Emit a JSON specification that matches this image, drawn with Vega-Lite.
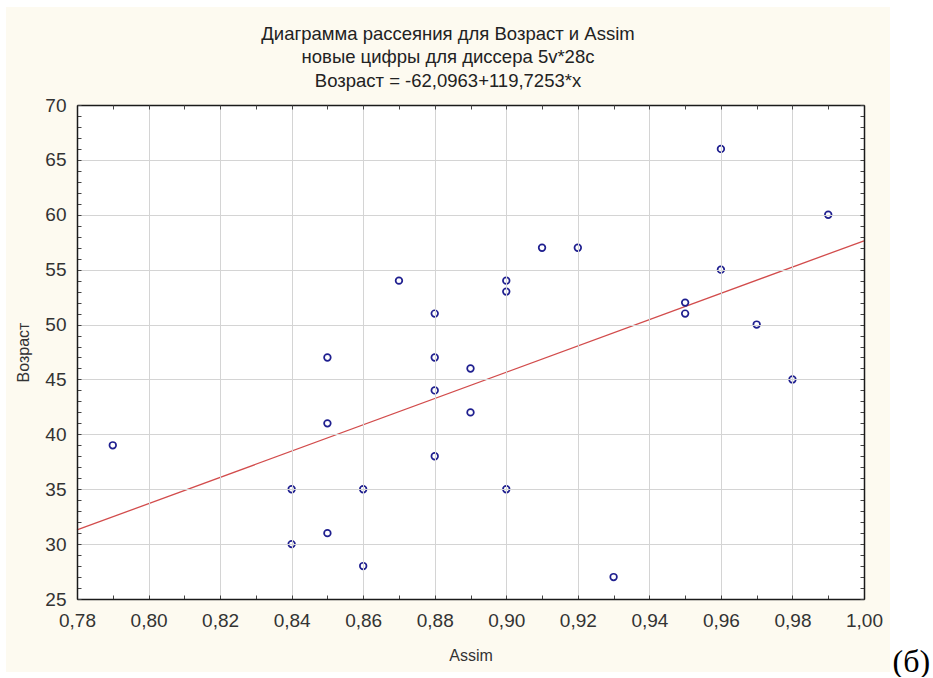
{
  "$schema": "https://vega.github.io/schema/vega-lite/v6.json",
  "width": 884,
  "height": 665,
  "padding": {"left": 6, "top": 7, "right": 0, "bottom": 0},
  "autosize": {"type": "pad"},
  "background": "white",
  "config": {
    "view": {"fill": "#fdfaf0", "stroke": null},
    "font": "Liberation Sans"
  },
  "title": {
    "text": ["Диаграмма рассеяния для Возраст и Assim", "новые цифры для диссера 5v*28c", "Возраст = -62,0963+119,7253*x"],
    "font": "Liberation Sans",
    "fontSize": 18.5,
    "fontWeight": "normal",
    "color": "#222222",
    "lineHeight": 23.5,
    "anchor": "middle",
    "frame": "group",
    "offset": -83
  },
  "datasets": {
    "frame": [{"x0": 0.78, "x1": 1.0, "y0": 25, "y1": 70}],
    "fit": [
      {"assim": 0.78, "age": 31.29},
      {"assim": 1.0, "age": 57.63}
    ],
    "obs": [
      {"assim": 0.79, "age": 39},
      {"assim": 0.84, "age": 35},
      {"assim": 0.84, "age": 30},
      {"assim": 0.85, "age": 47},
      {"assim": 0.85, "age": 41},
      {"assim": 0.85, "age": 31},
      {"assim": 0.86, "age": 35},
      {"assim": 0.86, "age": 28},
      {"assim": 0.87, "age": 54},
      {"assim": 0.88, "age": 51},
      {"assim": 0.88, "age": 47},
      {"assim": 0.88, "age": 44},
      {"assim": 0.88, "age": 38},
      {"assim": 0.89, "age": 46},
      {"assim": 0.89, "age": 42},
      {"assim": 0.90, "age": 54},
      {"assim": 0.90, "age": 53},
      {"assim": 0.90, "age": 35},
      {"assim": 0.91, "age": 57},
      {"assim": 0.92, "age": 57},
      {"assim": 0.93, "age": 27},
      {"assim": 0.95, "age": 52},
      {"assim": 0.95, "age": 51},
      {"assim": 0.96, "age": 66},
      {"assim": 0.96, "age": 55},
      {"assim": 0.97, "age": 50},
      {"assim": 0.98, "age": 45},
      {"assim": 0.99, "age": 60}
    ]
  },
  "layer": [
    {
      "data": {"name": "frame"},
      "mark": {"type": "rect", "fill": "white", "stroke": null},
      "encoding": {
        "x": {
          "field": "x0", "type": "quantitative",
          "scale": {"domain": [0.78, 1.0], "range": [71, 858], "nice": false, "zero": false},
          "axis": {
            "orient": "bottom", "offset": -73,
            "values": [0.78, 0.79, 0.8, 0.81, 0.82, 0.83, 0.84, 0.85, 0.86, 0.87, 0.88, 0.89, 0.9, 0.91, 0.92, 0.93, 0.94, 0.95, 0.96, 0.97, 0.98, 0.99, 1.0],
            "labelExpr": "round(datum.value*100) % 2 == 0 ? replace(format(datum.value, '.2f'), '.', ',') : ''",
            "labelOverlap": false, "labelFlush": false,
            "labelFontSize": 19, "labelColor": "#333333", "labelPadding": 16,
            "grid": false,
            "domain": true, "domainColor": "#1a1a1a", "domainWidth": 1.5,
            "ticks": true, "tickSize": -4, "tickColor": "#444444", "tickWidth": 1,
            "title": "Assim", "titleFontSize": 16, "titleFontWeight": "normal", "titleColor": "#333333", "titlePadding": 17,
            "zindex": 3
          }
        },
        "x2": {"field": "x1"},
        "y": {
          "field": "y0", "type": "quantitative",
          "scale": {"domain": [25, 70], "range": [592, 98], "nice": false, "zero": false},
          "axis": {
            "orient": "left", "offset": -71,
            "values": [25, 26, 27, 28, 29, 30, 31, 32, 33, 34, 35, 36, 37, 38, 39, 40, 41, 42, 43, 44, 45, 46, 47, 48, 49, 50, 51, 52, 53, 54, 55, 56, 57, 58, 59, 60, 61, 62, 63, 64, 65, 66, 67, 68, 69, 70],
            "labelExpr": "round(datum.value) % 5 == 0 ? format(datum.value, 'd') : ''",
            "labelOverlap": false, "labelFlush": false,
            "labelFontSize": 19, "labelColor": "#333333", "labelPadding": 15,
            "grid": false,
            "domain": true, "domainColor": "#1a1a1a", "domainWidth": 1.5,
            "ticks": true, "tickSize": -4, "tickColor": "#444444", "tickWidth": 1,
            "title": "Возраст", "titleFontSize": 16, "titleFontWeight": "normal", "titleColor": "#333333", "titlePadding": 13,
            "zindex": 3
          }
        },
        "y2": {"field": "y1"}
      }
    },
    {
      "data": {"name": "fit"},
      "mark": {"type": "line", "color": "#d24c4c", "strokeWidth": 1.3},
      "encoding": {
        "x": {
          "field": "assim", "type": "quantitative",
          "scale": {"domain": [0.78, 1.0], "range": [71, 858], "nice": false, "zero": false},
          "axis": {
            "orient": "top", "offset": -98,
            "values": [0.78, 0.8, 0.82, 0.84, 0.86, 0.88, 0.9, 0.92, 0.94, 0.96, 0.98, 1.0],
            "grid": true, "gridColor": "#d4d4d4", "gridWidth": 1,
            "ticks": false, "labels": false,
            "domain": true, "domainColor": "#1a1a1a", "domainWidth": 1.5,
            "title": null,
            "zindex": 1
          }
        },
        "y": {
          "field": "age", "type": "quantitative",
          "scale": {"domain": [25, 70], "range": [592, 98], "nice": false, "zero": false},
          "axis": {
            "orient": "left", "offset": -71,
            "values": [25, 30, 35, 40, 45, 50, 55, 60, 65, 70],
            "grid": true, "gridColor": "#d4d4d4", "gridWidth": 1,
            "ticks": false, "labels": false, "domain": false,
            "title": null,
            "zindex": 1
          }
        }
      }
    },
    {
      "data": {"name": "obs"},
      "mark": {"type": "point", "shape": "circle", "filled": false, "stroke": "#1f1f8f", "strokeWidth": 1.7, "size": 44, "opacity": 1},
      "encoding": {
        "x": {
          "field": "assim", "type": "quantitative",
          "scale": {"domain": [0.78, 1.0], "range": [71, 858], "nice": false, "zero": false},
          "axis": {
            "orient": "top", "offset": -98,
            "values": [0.78, 0.79, 0.8, 0.81, 0.82, 0.83, 0.84, 0.85, 0.86, 0.87, 0.88, 0.89, 0.9, 0.91, 0.92, 0.93, 0.94, 0.95, 0.96, 0.97, 0.98, 0.99, 1.0],
            "grid": false, "labels": false, "domain": false,
            "ticks": true, "tickSize": -4, "tickColor": "#444444", "tickWidth": 1,
            "title": null,
            "zindex": 3
          }
        },
        "y": {
          "field": "age", "type": "quantitative",
          "scale": {"domain": [25, 70], "range": [592, 98], "nice": false, "zero": false},
          "axis": {
            "orient": "right", "offset": -26,
            "values": [25, 26, 27, 28, 29, 30, 31, 32, 33, 34, 35, 36, 37, 38, 39, 40, 41, 42, 43, 44, 45, 46, 47, 48, 49, 50, 51, 52, 53, 54, 55, 56, 57, 58, 59, 60, 61, 62, 63, 64, 65, 66, 67, 68, 69, 70],
            "grid": false, "labels": false,
            "domain": true, "domainColor": "#1a1a1a", "domainWidth": 1.5,
            "ticks": true, "tickSize": -4, "tickColor": "#444444", "tickWidth": 1,
            "title": "(б)", "titleAngle": 0, "titleFont": "Liberation Serif", "titleFontSize": 32, "titleFontWeight": "normal", "titleColor": "#000000",
            "titleAlign": "left", "titleBaseline": "alphabetic", "titleX": 28, "titleY": 664,
            "zindex": 3
          }
        }
      }
    }
  ],
  "resolve": {"axis": {"x": "independent", "y": "independent"}}
}
